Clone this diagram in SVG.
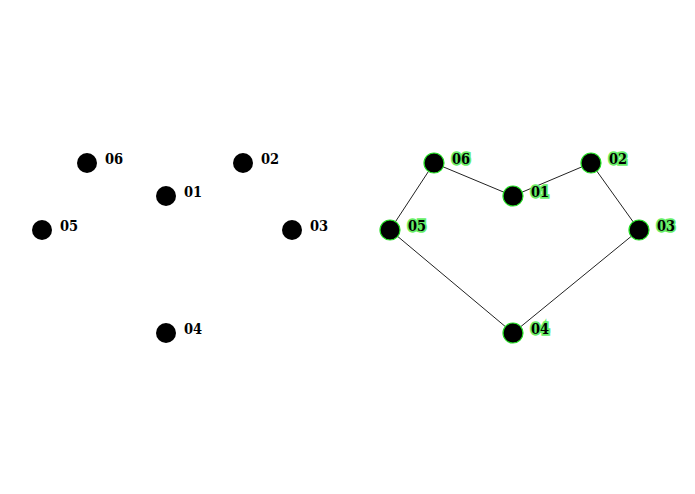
<svg xmlns="http://www.w3.org/2000/svg" width="695" height="494" viewBox="0 0 695 494">
<style>
.n{fill:#000}
.g{fill:#000;stroke:#22dd22;stroke-width:1.2}
.t{font-family:"DejaVu Serif Condensed","DejaVu Serif",serif;font-stretch:condensed;font-weight:bold;font-size:14.5px;fill:#000}
.tg{font-family:"DejaVu Serif Condensed","DejaVu Serif",serif;font-stretch:condensed;font-weight:bold;font-size:14.5px;fill:#000;stroke:#66ee66;stroke-width:3.5;paint-order:stroke;stroke-linejoin:miter}
.e{stroke:#222;stroke-width:1;fill:none}
</style>
<rect width="695" height="494" fill="#fff"/>
<g id="left">
<g id="L06"><circle class="n" cx="87" cy="163" r="10"/><text class="t" x="105" y="164">06</text></g>
<g id="L01"><circle class="n" cx="166" cy="196" r="10"/><text class="t" x="184" y="197">01</text></g>
<g id="L02"><circle class="n" cx="243" cy="163" r="10"/><text class="t" x="261" y="164">02</text></g>
<g id="L05"><circle class="n" cx="42" cy="230" r="10"/><text class="t" x="60" y="231">05</text></g>
<g id="L03"><circle class="n" cx="292" cy="230" r="10"/><text class="t" x="310" y="231">03</text></g>
<g id="L04"><circle class="n" cx="166" cy="333" r="10"/><text class="t" x="184" y="334">04</text></g>
</g>
<g id="connectors">
<line class="e" x1="434" y1="163" x2="513" y2="196"/>
<line class="e" x1="513" y1="196" x2="591" y2="163"/>
<line class="e" x1="591" y1="163" x2="639" y2="230"/>
<line class="e" x1="639" y1="230" x2="513" y2="333"/>
<line class="e" x1="513" y1="333" x2="390" y2="230"/>
<line class="e" x1="390" y1="230" x2="434" y2="163"/>
</g>
<g id="right">
<g id="R06"><circle class="g" cx="434" cy="163" r="10"/><text class="tg" x="452" y="164">06</text></g>
<g id="R01"><circle class="g" cx="513" cy="196" r="10"/><text class="tg" x="531" y="197">01</text></g>
<g id="R02"><circle class="g" cx="591" cy="163" r="10"/><text class="tg" x="609" y="164">02</text></g>
<g id="R05"><circle class="g" cx="390" cy="230" r="10"/><text class="tg" x="408" y="231">05</text></g>
<g id="R03"><circle class="g" cx="639" cy="230" r="10"/><text class="tg" x="657" y="231">03</text></g>
<g id="R04"><circle class="g" cx="513" cy="333" r="10"/><text class="tg" x="531" y="334">04</text></g>
</g>
</svg>
